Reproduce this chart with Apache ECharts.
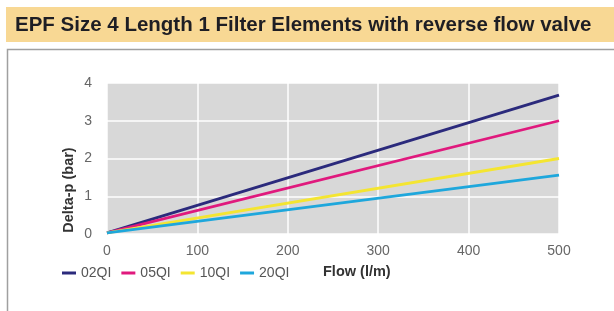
<!DOCTYPE html>
<html>
<head>
<meta charset="utf-8">
<script src="https://cdn.jsdelivr.net/npm/echarts@6/dist/echarts.min.js"></script>
<style>
  html, body { margin: 0; padding: 0; background: #fff; }
  #chart { width: 614px; height: 311px; }
</style>
</head>
<body>
<div id="chart"></div>
<script>
// flow (l/m) -> delta-p (bar), straight lines
const flow = [0, 500]
const seriesNames = ['02QI', '05QI', '10QI', '20QI']
const dp02 = [0.03, 3.68]
const dp05 = [0.03, 3.0]
const dp10 = [0.03, 2.0]
const dp20 = [0.03, 1.56]
const colors = ['#2b2a7c', '#e0197d', '#f4e531', '#1ea7dc']

const values = [dp02, dp05, dp10, dp20]

const chart = echarts.init(document.getElementById('chart'))

const font = 'Liberation Sans, Arial, sans-serif'

chart.setOption({
  animation: false,
  textStyle: { fontFamily: font },
  graphic: [
    {
      type: 'rect',
      shape: { x: 6, y: 7, width: 620, height: 35 },
      style: { fill: '#f8d894' },
    },
    {
      type: 'text',
      x: 15,
      y: 25,
      style: {
        text: 'EPF Size 4 Length 1 Filter Elements with reverse flow valve',
        font: 'bold 20.5px ' + font,
        fill: '#1e1e24',
        verticalAlign: 'middle',
      },
    },
    {
      type: 'rect',
      shape: { x: 7.5, y: 49.5, width: 640, height: 300 },
      style: { fill: 'none', stroke: '#a0a0a0', lineWidth: 1.5 },
    },
    {
      type: 'text',
      x: 69,
      y: 190,
      rotation: Math.PI / 2,
      style: {
        text: 'Delta-p (bar)',
        font: 'bold 14.5px ' + font,
        fill: '#333',
        align: 'center',
        verticalAlign: 'middle',
      },
    },
    {
      type: 'text',
      x: 323,
      y: 272,
      style: {
        text: 'Flow (l/m)',
        font: 'bold 14.5px ' + font,
        fill: '#333',
        verticalAlign: 'middle',
      },
    },
  ],
  legend: {
    left: 57,
    top: 261,
    icon: 'rect',
    itemWidth: 14,
    itemHeight: 3,
    itemGap: 10,
    textStyle: { fontSize: 14, color: '#555' },
    data: seriesNames,
  },
  grid: {
    left: 107,
    right: 55,
    top: 83,
    bottom: 77,
    show: true,
    backgroundColor: '#d8d8d8',
    borderWidth: 0,
  },
  xAxis: {
    type: 'value',
    min: 0,
    max: 500,
    interval: 100,
    axisLine: { show: false },
    axisTick: { show: false },
    axisLabel: { color: '#666', fontSize: 14, margin: 10 },
    splitLine: { show: true, lineStyle: { color: '#ffffff', width: 1.5 } },
  },
  yAxis: {
    type: 'value',
    min: 0,
    max: 4,
    interval: 1,
    axisLine: { show: false },
    axisTick: { show: false },
    axisLabel: { color: '#666', fontSize: 14, margin: 15 },
    splitLine: { show: true, lineStyle: { color: '#ffffff', width: 1.5 } },
  },
  series: seriesNames.map((name, i) => ({
    name: name,
    type: 'line',
    data: flow.map((f, j) => [f, values[i][j]]),
    symbol: 'none',
    color: colors[i],
    lineStyle: { width: 2.8, color: colors[i] },
  })),
})
</script>
</body>
</html>
